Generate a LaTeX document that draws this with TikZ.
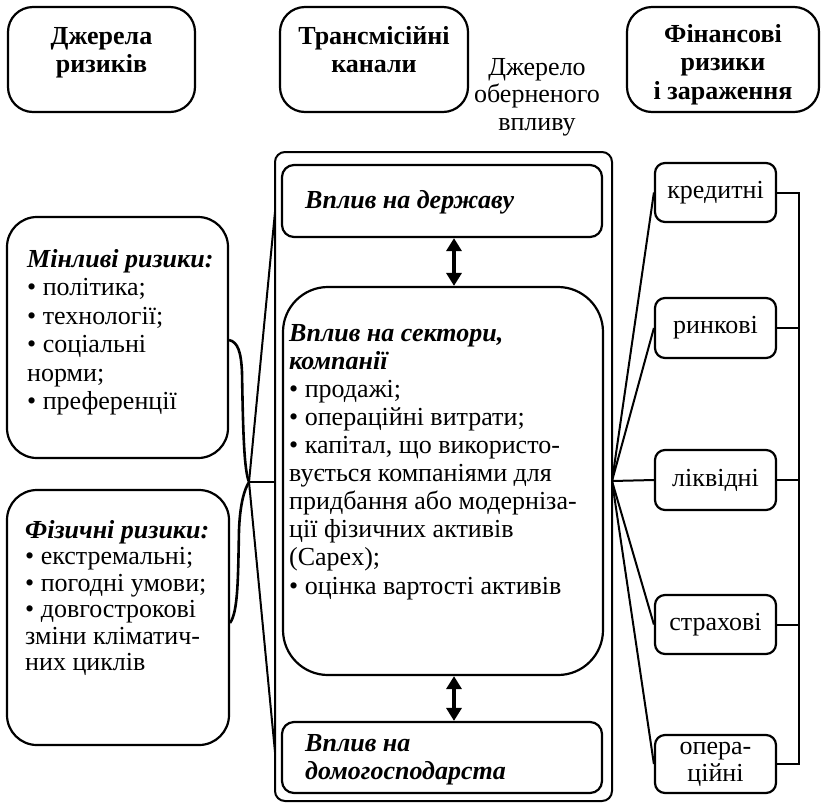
\documentclass[tikz,border=0pt]{standalone}
\usepackage{fontspec}
\setmainfont{Liberation Serif}
\usetikzlibrary{arrows.meta}
\begin{document}
\begin{tikzpicture}[x=1pt,y=-1pt,
  txt/.style={font=\fontsize{26}{28}\selectfont, inner sep=0pt},
  hdr/.style={font=\fontsize{26}{28}\selectfont\bfseries, inner sep=0pt, align=center, anchor=base},
  rbox/.style={draw, line width=2.2pt, rounded corners=#1, inner sep=0pt},
  link/.style={line width=2pt},
  brace/.style={line width=2.6pt},
  dbl/.style={line width=4pt, {Triangle[width=15pt,length=13pt]}-{Triangle[width=15pt,length=13pt]}},
]
\useasboundingbox (0,0) rectangle (821,804);

% header boxes
\node[rbox=25pt, minimum width=187pt, minimum height=105pt] (h1) at (101.5,59.5) {};
\node[rbox=25pt, minimum width=188pt, minimum height=105pt] (h2) at (374,59.5) {};
\node[rbox=25pt, minimum width=192pt, minimum height=105pt] (h3) at (723,59.5) {};
% multi-line nodes: base anchor is the baseline of the last line
\node[hdr] (h1t) at (101.5,72) {Джерела\\ризиків};
\node[hdr] (h2t) at (374,72) {Трансмісійні\\канали};
\node[hdr, font=\fontsize{26}{28.5}\selectfont\bfseries] (h3t) at (723,99) {Фінансові\\ризики\\і зараження};
\node[txt, font=\fontsize{26}{27.5}\selectfont, align=center, anchor=base] (rev) at (537,130) {Джерело\\оберненого\\впливу};

% left boxes
\node[rbox=30pt, minimum width=221pt, minimum height=241pt] (lb1) at (117.5,337.5) {};
\node[rbox=30pt, minimum width=222pt, minimum height=255pt] (lb2) at (118,617.5) {};
\node[txt, font=\fontsize{26}{28.5}\selectfont, align=left, anchor=base west] (lb1t) at (27,409.5)
  {\textbf{\textit{Мінливі ризики:}}\\• політика;\\• технології;\\• соціальні\\норми;\\• преференції};
\node[txt, font=\fontsize{26}{26.5}\selectfont, align=left, anchor=base west] (lb2t) at (25,670.5)
  {\textbf{\textit{Фізичні ризики:}}\\• екстремальні;\\• погодні умови;\\• довгострокові\\зміни кліматич-\\них циклів};

% transmission container
\node[rbox=10pt, line width=2pt, minimum width=337pt, minimum height=649pt] (outer) at (443.5,476.5) {};
\node[rbox=12pt, minimum width=320pt, minimum height=72pt] (gov) at (442,201) {};
\node[rbox=45pt, minimum width=320pt, minimum height=388pt] (sect) at (443,481) {};
\node[rbox=12pt, minimum width=320pt, minimum height=71pt] (hh) at (442,757.5) {};
\node[txt, anchor=base west] (govt) at (305,208) {\textbf{\textit{Вплив на державу}}};
\node[txt, font=\fontsize{26}{28}\selectfont, align=left, anchor=base west] (hht) at (305,779)
  {\textbf{\textit{Вплив на}}\\\textbf{\textit{домогосподарста}}};
\node[txt, font=\fontsize{26}{28.1}\selectfont, align=left, anchor=base west] (sectt) at (289,594)
  {\textbf{\textit{Вплив на сектори,}}\\\textbf{\textit{компанії}}\\• продажі;\\• операційні витрати;\\• капітал, що використо-\\вується компаніями для\\придбання або модерніза-\\ції фізичних активів\\(Capex);\\• оцінка вартості активів};

\coordinate (ax) at (454,0);
\draw[dbl] (gov.south -| ax) -- (sect.north -| ax);
\draw[dbl] (sect.south -| ax) -- (hh.north -| ax);

% financial risk boxes
\node[rbox=10pt, txt, minimum width=121pt, minimum height=59pt] (kred) at (715.5,192.5) {кредитні};
\node[rbox=10pt, txt, minimum width=121pt, minimum height=60pt] (rynk) at (715.5,328) {ринкові};
\node[rbox=10pt, txt, minimum width=121pt, minimum height=60pt] (likv) at (715.5,480) {ліквідні};
\node[rbox=10pt, txt, minimum width=121pt, minimum height=59pt] (strakh) at (715.5,624.5) {страхові};
\node[rbox=10pt, txt, font=\fontsize{26}{27}\selectfont, align=center, minimum width=121pt, minimum height=58pt] (oper) at (715.5,764) {опера-\\ційні};

% left brace and links
\coordinate (btop) at (229,340);
\coordinate (bbot) at (230,623);
\coordinate (ltip) at (249,482);
\coordinate (lt1) at (275,212);
\coordinate (lt2) at (275,752);
\draw[brace] (btop) .. controls (238,342) and (241,352) .. (242,372)
  .. controls (243,430) and (244,470) .. (ltip)
  .. controls (244,490) and (240,505) .. (239,530)
  .. controls (238,580) and (238,612) .. (bbot);
\draw[link] (ltip) -- (ltip -| outer.west);
\draw[link] (lt1) -- (ltip) -- (lt2);

% right links
\coordinate (rtip) at (612,481);
\draw[link] (rtip) -- (kred.west);
\draw[link] (rtip) -- (rynk.west);
\draw[link] (rtip) -- (likv.west);
\draw[link] (rtip) -- (strakh.west);
\draw[link] (rtip) -- (oper.west);
\coordinate (rx) at (799,0);
\draw[link] (kred.east) -- (kred.east -| rx) -- (oper.east -| rx) -- (oper.east);
\draw[link] (rynk.east) -- (rynk.east -| rx);
\draw[link] (likv.east) -- (likv.east -| rx);
\draw[link] (strakh.east) -- (strakh.east -| rx);
\end{tikzpicture}
\end{document}
